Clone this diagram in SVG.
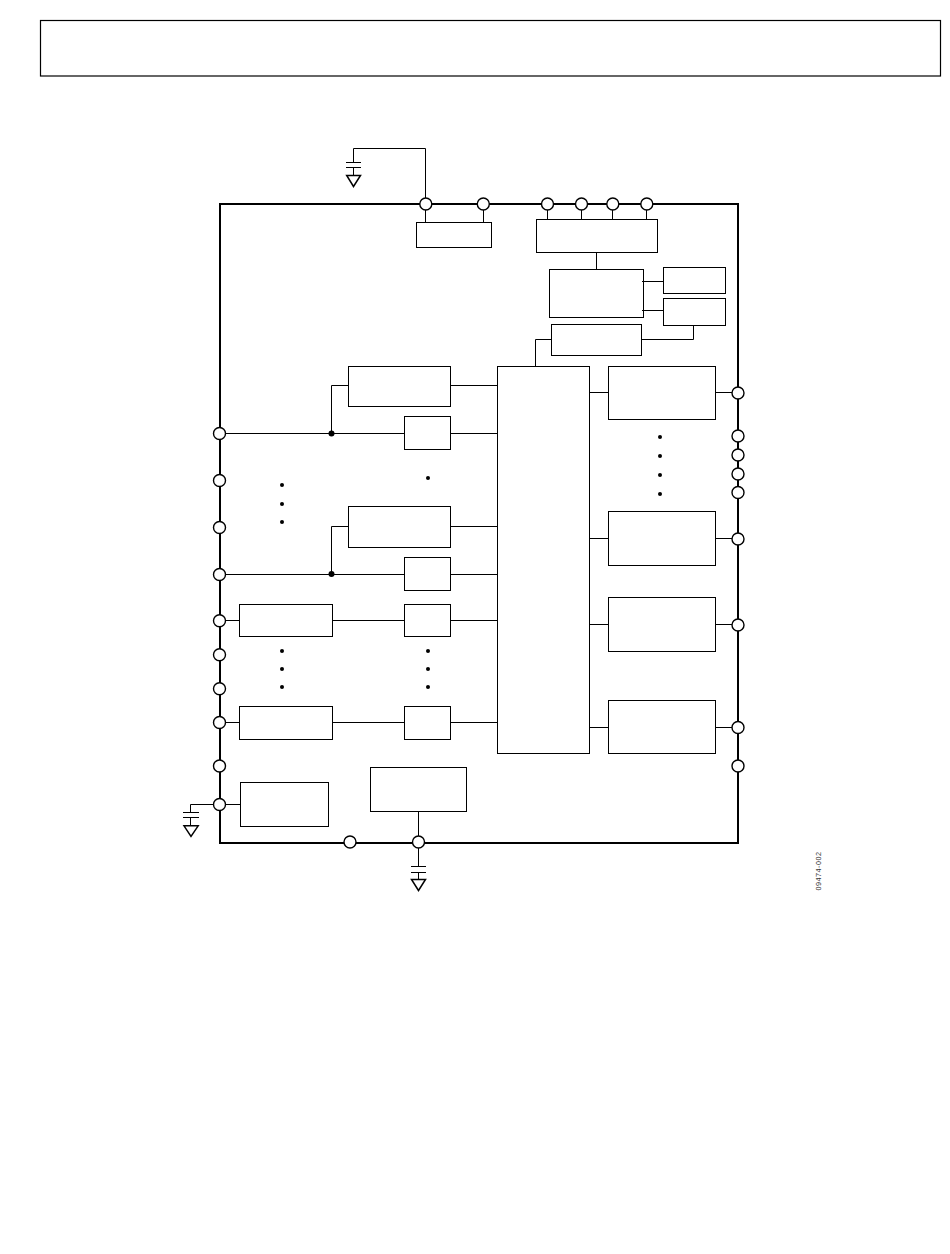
<svg xmlns="http://www.w3.org/2000/svg" width="950" height="1254" viewBox="0 0 950 1254">
<style>
.b{fill:#fff;stroke:#000;stroke-width:1}
.w{fill:none;stroke:#000;stroke-width:1}
.p{fill:#fff;stroke:#000;stroke-width:1.4}
.d{fill:#000;stroke:none}
.g{fill:#fff;stroke:#000;stroke-width:1.5}
</style>
<rect width="950" height="1254" fill="#fff"/>
<rect id="header" x="40.500" y="20.500" width="900" height="55.500" fill="none" stroke="#000" stroke-width="1.200"/>
<rect id="chip" x="220" y="204" width="518" height="639" fill="none" stroke="#000" stroke-width="2"/>
<g id="blocks">
<rect id="n1" class="b" x="416.500" y="222.500" width="75" height="25"/>
<rect id="n2" class="b" x="536.500" y="219.500" width="121" height="33"/>
<rect id="n3" class="b" x="549.500" y="269.500" width="94" height="48"/>
<rect id="n4" class="b" x="663.500" y="267.500" width="62" height="26"/>
<rect id="n5" class="b" x="663.500" y="298.500" width="62" height="27"/>
<rect id="n6" class="b" x="551.500" y="324.500" width="90" height="31"/>
<rect id="n7" class="b" x="348.500" y="366.500" width="102" height="40"/>
<rect id="n8" class="b" x="404.500" y="416.500" width="46" height="33"/>
<rect id="n9" class="b" x="348.500" y="506.500" width="102" height="41"/>
<rect id="n10" class="b" x="404.500" y="557.500" width="46" height="33"/>
<rect id="n11" class="b" x="239.500" y="604.500" width="93" height="32"/>
<rect id="n12" class="b" x="404.500" y="604.500" width="46" height="32"/>
<rect id="n13" class="b" x="239.500" y="706.500" width="93" height="33"/>
<rect id="n14" class="b" x="404.500" y="706.500" width="46" height="33"/>
<rect id="n15" class="b" x="497.500" y="366.500" width="92" height="387"/>
<rect id="n16" class="b" x="608.500" y="366.500" width="107" height="53"/>
<rect id="n17" class="b" x="608.500" y="511.500" width="107" height="54"/>
<rect id="n18" class="b" x="608.500" y="597.500" width="107" height="54"/>
<rect id="n19" class="b" x="608.500" y="700.500" width="107" height="53"/>
<rect id="n20" class="b" x="240.500" y="782.500" width="88" height="44"/>
<rect id="n21" class="b" x="370.500" y="767.500" width="96" height="44"/>
</g>
<g id="connectors">
<path class="w" d="M353.500 162.500V148.500H425.500V204M425.500 204V222M483.500 204V222M547.500 204V219M581.500 204V219M612.500 204V219M646.500 204V219M596.500 252V269M642 281.500H663M642 310.500H663M641 339.500H693.500V325M551 339.500H535.500V366"/>
<path class="w" d="M346 162.500H361M346 167.500H361M353.500 167.500V175"/>
<path class="w" d="M450 385.500H497M450 433.500H497M450 526.500H497M450 574.500H497M450 620.500H497M450 722.500H497"/>
<path class="w" d="M589 392.500H608M589 538.500H608M589 624.500H608M589 727.500H608M715 392.500H738M715 538.500H738M715 624.500H738M715 727.500H738"/>
<path class="w" d="M220 433.500H404M331.500 433.500V385.500H348M220 574.500H404M331.500 574.500V526.500H348M220 620.500H239M332 620.500H404M220 722.500H239M332 722.500H404"/>
<path class="w" d="M220 804.500H240M219 804.500H190.500V812.500M183 812.500H199M183 817.500H199M190.500 817.500V825"/>
<path class="w" d="M418.500 811V866.500M411 866.500H426M411 872.500H426M418.500 872.500V879"/>
</g>
<g id="grounds">
<path class="g" d="M346.700 175.500H360.500L353.500 186.500Z"/>
<path class="g" d="M184 825.800H198.200L191 836.500Z"/>
<path class="g" d="M411.500 879.500H425.500L418.500 890.500Z"/>
</g>
<g id="pins">
<circle class="p" cx="425.800" cy="204" r="6"/><circle class="p" cx="483.300" cy="204" r="6"/><circle class="p" cx="547.500" cy="204" r="6"/><circle class="p" cx="581.500" cy="204" r="6"/><circle class="p" cx="612.800" cy="204" r="6"/><circle class="p" cx="646.800" cy="204" r="6"/>
<circle class="p" cx="219.500" cy="433.500" r="6"/><circle class="p" cx="219.500" cy="480.500" r="6"/><circle class="p" cx="219.500" cy="527.500" r="6"/><circle class="p" cx="219.500" cy="574.500" r="6"/><circle class="p" cx="219.500" cy="620.800" r="6"/><circle class="p" cx="219.500" cy="654.800" r="6"/><circle class="p" cx="219.500" cy="688.800" r="6"/><circle class="p" cx="219.500" cy="722.500" r="6"/><circle class="p" cx="219.500" cy="766" r="6"/><circle class="p" cx="219.500" cy="804.500" r="6"/>
<circle class="p" cx="738" cy="393" r="6"/><circle class="p" cx="738" cy="436" r="6"/><circle class="p" cx="738" cy="455" r="6"/><circle class="p" cx="738" cy="474" r="6"/><circle class="p" cx="738" cy="492.500" r="6"/><circle class="p" cx="738" cy="539" r="6"/><circle class="p" cx="738" cy="625" r="6"/><circle class="p" cx="738" cy="727.500" r="6"/><circle class="p" cx="738" cy="766" r="6"/>
<circle class="p" cx="350" cy="842" r="6"/><circle class="p" cx="418.500" cy="842" r="6"/>
</g>
<g id="dots">
<circle class="d" cx="331.500" cy="433.500" r="3"/><circle class="d" cx="331.500" cy="574" r="3"/>
<circle class="d" cx="282" cy="485" r="2"/><circle class="d" cx="282" cy="504" r="2"/><circle class="d" cx="282" cy="522" r="2"/>
<circle class="d" cx="428" cy="478" r="2"/>
<circle class="d" cx="282" cy="651" r="2"/><circle class="d" cx="282" cy="669" r="2"/><circle class="d" cx="282" cy="687" r="2"/>
<circle class="d" cx="428" cy="651" r="2"/><circle class="d" cx="428" cy="669" r="2"/><circle class="d" cx="428" cy="687" r="2"/>
<circle class="d" cx="660" cy="437" r="2"/><circle class="d" cx="660" cy="456" r="2"/><circle class="d" cx="660" cy="475" r="2"/><circle class="d" cx="660" cy="494" r="2"/>
</g>
<text id="code" transform="translate(821 890.500) rotate(-90)" font-family="'Liberation Sans',Arial,sans-serif" font-size="7.300" letter-spacing="0.450" fill="#333" text-rendering="geometricPrecision">09474-002</text>
</svg>
